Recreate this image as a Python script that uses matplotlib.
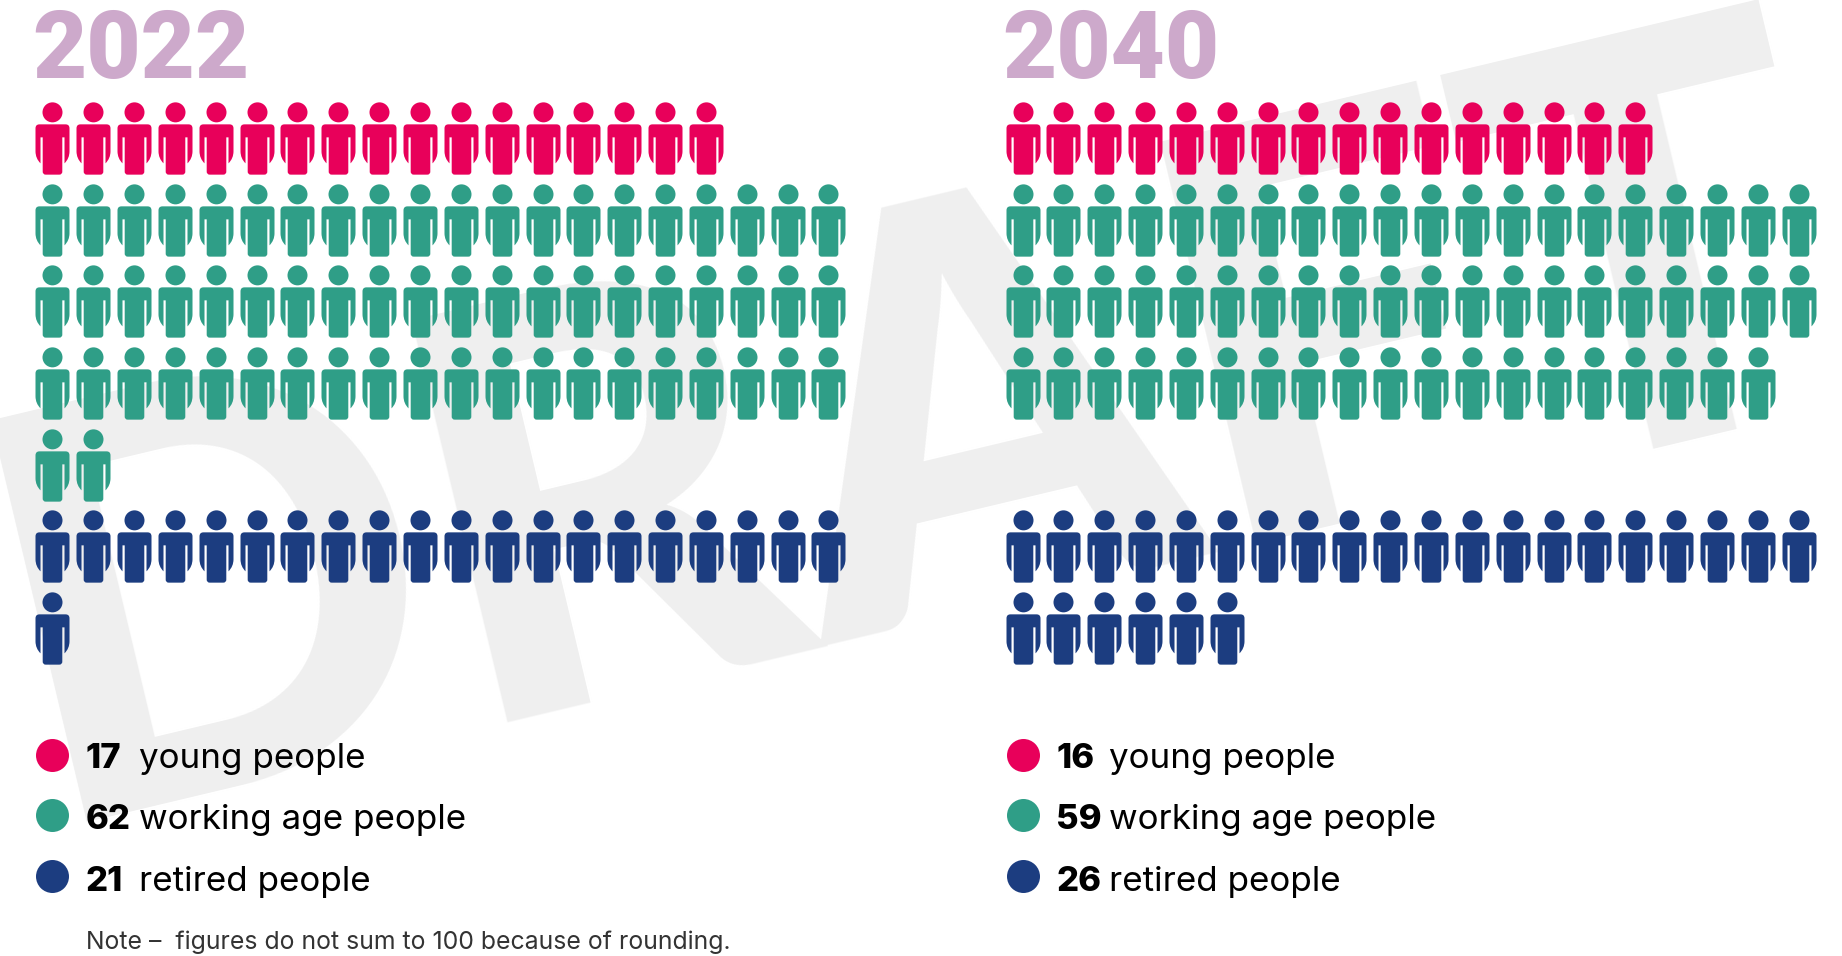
import matplotlib
matplotlib.use("Agg")
import matplotlib.pyplot as plt
from matplotlib.path import Path

# Population per 100 people, by age group and year
YEARS = ["2022", "2040"]
GROUPS = ["young people", "working age people", "retired people"]
COUNTS_2022 = [17, 62, 21]
COUNTS_2040 = [16, 59, 26]
COLOURS = ["#E8005A", "#2F9E87", "#1C3D80"]
TITLE_COLOUR = "#CDA9CB"
WATERMARK_COLOUR = "#EFEFEF"
NOTE = "Note \u2013  figures do not sum to 100 because of rounding."

W, H = 1842, 956
PER_ROW = 20
GROUP_START_ROW = [0, 1, 5]
COL_STEP = 40.85
ROW_STEP = 81.67
PANEL_X = [52.3, 1022.5]
FIRST_ROW_Y = 137.85
FONT = "Inter"


def person_marker():
    """Pictogram of a standing person, y up, centred on the icon's middle."""
    head = Path.circle((0, 26.15), 10)
    # Outline of the body, clockwise from the top centre; y runs down from the head's centre
    outline = [
        (Path.MOVETO, 0, 12.0), (Path.LINETO, 13.0, 12.0),
        (Path.CURVE3, 17.0, 12.0), (Path.CURVE3, 17.0, 16.0),
        (Path.LINETO, 17.0, 39.0),
        (Path.CURVE3, 17.0, 46.0), (Path.CURVE3, 12.0, 51.0),
        (Path.LINETO, 12.0, 25.0), (Path.LINETO, 9.8, 25.0), (Path.LINETO, 9.8, 59.3),
        (Path.CURVE3, 9.8, 62.3), (Path.CURVE3, 6.8, 62.3),
        (Path.LINETO, -6.8, 62.3),
        (Path.CURVE3, -9.8, 62.3), (Path.CURVE3, -9.8, 59.3),
        (Path.LINETO, -9.8, 25.0), (Path.LINETO, -12.0, 25.0), (Path.LINETO, -12.0, 51.0),
        (Path.CURVE3, -17.0, 46.0), (Path.CURVE3, -17.0, 39.0),
        (Path.LINETO, -17.0, 16.0),
        (Path.CURVE3, -17.0, 12.0), (Path.CURVE3, -13.0, 12.0),
        (Path.CLOSEPOLY, 0, 12.0),
    ]
    body = Path([(x, 26.15 - y) for _, x, y in outline], [c for c, _, _ in outline])
    return Path.make_compound_path(head, body)


PERSON = person_marker()
# Custom markers are normalised to their largest extent, which here is half the icon height
MARKER_PT = 72.3 * 72 / 100

fig = plt.figure(figsize=(W / 100, H / 100), dpi=100, facecolor="white")
canvas = fig.add_axes([0, 0, 1, 1])
canvas.set_xlim(0, W)
canvas.set_ylim(H, 0)
canvas.axis("off")

# Rotated background stamp
canvas.text(44, 823, "DRAFT", family="Lato", fontsize=410, weight="black", color=WATERMARK_COLOUR,
            rotation=13.4, rotation_mode="anchor", ha="left", va="baseline", zorder=0, clip_on=True)

for year, counts, x0 in zip(YEARS, (COUNTS_2022, COUNTS_2040), PANEL_X):
    # Grid of people: one axes per year, in column and row units
    ax = fig.add_axes([(x0 - COL_STEP / 2) / W,
                       1 - (FIRST_ROW_Y + 6.5 * ROW_STEP) / H,
                       COL_STEP * PER_ROW / W,
                       ROW_STEP * 7 / H])
    ax.set_xlim(-0.5, PER_ROW - 0.5)
    ax.set_ylim(6.5, -0.5)
    ax.axis("off")
    ax.patch.set_alpha(0)
    for n, colour, start in zip(counts, COLOURS, GROUP_START_ROW):
        cols = [i % PER_ROW for i in range(n)]
        rows = [start + i // PER_ROW for i in range(n)]
        ax.scatter(cols, rows, marker=PERSON, s=MARKER_PT ** 2, c=colour, linewidths=0, clip_on=False)

    # Year heading
    canvas.text(x0 - 20.5, 77.5, year, family="Roboto", fontsize=67.5, weight="black", color=TITLE_COLOUR,
                ha="left", va="baseline")

    # Key with the bold count and the group name in a fixed column
    for n, label, colour, cy, base in zip(counts, GROUPS, COLOURS, (754.7, 815.3, 876.0), (767.7, 828.6, 891.0)):
        canvas.scatter([x0], [cy], s=(33 * 0.72) ** 2, c=colour, linewidths=0, zorder=3)
        canvas.text(x0 + 33.5, base, str(n), family=FONT, fontsize=25, weight="extra bold", color="black",
                    ha="left", va="baseline")
        canvas.text(x0 + 86.7, base, label, family=FONT, fontsize=25.2, color="black", ha="left", va="baseline")

canvas.text(85.5, 949, NOTE, family=FONT, fontsize=17.85, color="#333333", ha="left", va="baseline")

fig.savefig("out.png", dpi=100, facecolor="white")
